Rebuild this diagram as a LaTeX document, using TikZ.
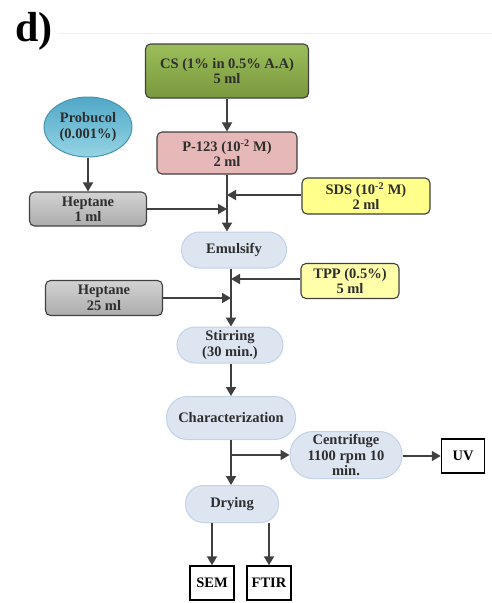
\documentclass[tikz,border=0pt]{standalone}
\usepackage{fontspec}
\setmainfont{Liberation Serif}
\usetikzlibrary{arrows.meta,shapes.geometric}
\definecolor{linec}{HTML}{404040}
\definecolor{pillfill}{HTML}{DDE5F1}
\definecolor{pilledge}{HTML}{C3D2E6}
\begin{document}
\begin{tikzpicture}[x=1pt,y=-1pt,
  font=\bfseries\fontsize{14.5}{15.5}\selectfont,
  box/.style={draw=linec, line width=1.1pt, rounded corners=5pt, align=center,
    inner sep=0pt, text=black!82},
  pill/.style={draw=pilledge, line width=1pt, fill=pillfill, align=center,
    inner sep=0pt, text=black!82},
  outbox/.style={draw=black, line width=1.5pt, fill=white, inner sep=0pt,
    minimum width=43pt, minimum height=34pt},
  flow/.style={draw=linec, line width=1.8pt, -{Triangle[length=9pt,width=10pt]}}]
\useasboundingbox (0,0) rectangle (492,603);

% panel label and rule
\node[font=\bfseries\fontsize{42}{42}\selectfont] (lbl) at (34,31) {d)};
\draw[black!6, line width=0.8pt] (58,33) -- (492,33);

% inputs
\node[box, top color={rgb,255:red,155;green,190;blue,90}, bottom color={rgb,255:red,122;green,152;blue,62},
  minimum width=163pt, minimum height=54pt] (cs) at (227,71)
  {CS (1\% in 0.5\% A.A)\\5 ml};
\node[ellipse, draw={rgb,255:red,70;green,150;blue,175}, line width=1pt,
  top color={rgb,255:red,80;green,168;blue,200}, bottom color={rgb,255:red,150;green,212;blue,228},
  minimum width=88pt, minimum height=60pt, inner sep=0pt, align=center, text=black!82]
  (prob) at (88,127) {Probucol\\(0.001\%)};
\node[box, fill={rgb,255:red,230;green,185;blue,184},
  minimum width=140pt, minimum height=42pt] (p123) at (227,153)
  {P-123 (10\textsuperscript{-2} M)\\2 ml};
\node[box, top color=gray!35, bottom color=gray!65,
  minimum width=117pt, minimum height=34pt] (hep1) at (88,209) {Heptane\\1 ml};
\node[box, fill={rgb,255:red,255;green,255;blue,140},
  minimum width=128pt, minimum height=36pt] (sds) at (366,196)
  {SDS (10\textsuperscript{-2} M)\\2 ml};

\node[pill, minimum width=105pt, minimum height=36pt, rounded corners=18pt]
  (emu) at (234,250) {Emulsify};

\node[box, fill={rgb,255:red,255;green,255;blue,170},
  minimum width=98pt, minimum height=35pt] (tpp) at (350,281)
  {TPP (0.5\%)\\5 ml};
\node[box, top color=gray!35, bottom color=gray!65,
  minimum width=117pt, minimum height=35pt] (hep25) at (104,298) {Heptane\\25 ml};

\node[pill, minimum width=106pt, minimum height=36pt, rounded corners=18pt]
  (stir) at (230,345) {Stirring\\(30 min.)};
\node[pill, minimum width=129pt, minimum height=43pt, rounded corners=21pt]
  (char) at (231,418) {Characterization};
\node[pill, minimum width=112pt, minimum height=47pt, rounded corners=23pt]
  (cent) at (346,455) {Centrifuge\\1100 rpm 10\\min.};
\node[outbox] (uv) at (463,456) {UV};
\node[pill, minimum width=93pt, minimum height=37pt, rounded corners=18pt]
  (dry) at (232,504) {Drying};
\node[outbox, minimum width=44pt] (sem) at (212,583) {SEM};
\node[outbox, minimum width=44pt] (ftir) at (269,583) {FTIR};

% junction points on the main line
\coordinate (j1) at (227,195);
\coordinate (j2) at (227,209);
\coordinate (j3) at (231,279);
\coordinate (j4) at (231,298);
\coordinate (j5) at (231,455);

% connectors
\draw[flow] (cs.south) -- (p123.north);
\draw[flow] (prob.south) -- (hep1.north);
\draw[flow] (p123.south) -- (p123.south |- emu.north);
\draw[flow] (sds.west |- j1) -- (j1);
\draw[flow] (hep1.east) -- (j2);
\draw[flow] (j3 |- emu.south) -- (j3 |- stir.north);
\draw[flow] (tpp.west |- j3) -- (j3);
\draw[flow] (hep25.east) -- (j4);
\draw[flow] (j3 |- stir.south) -- (j3 |- char.north);
\draw[flow] (j5 |- char.south) -- (j5 |- dry.north);
\draw[flow] (j5) -- (cent.west |- j5);
\draw[flow] (cent.east |- uv.west) -- (uv.west);
\draw[flow] (sem.north |- dry.south) -- (sem.north);
\draw[flow] (ftir.north |- dry.south) -- (ftir.north);
\end{tikzpicture}
\end{document}
